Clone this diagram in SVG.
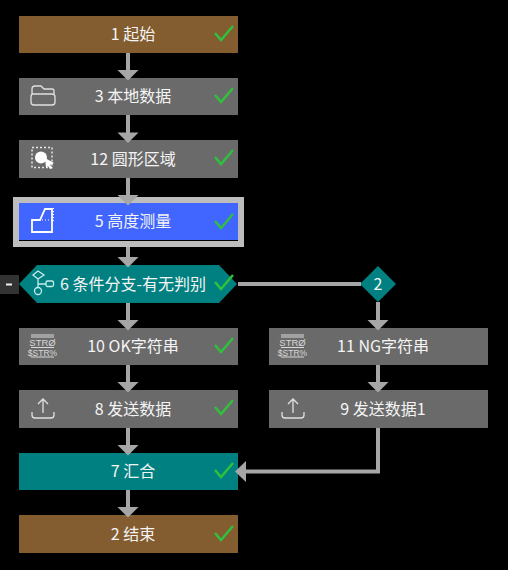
<svg xmlns="http://www.w3.org/2000/svg" width="508" height="570" viewBox="0 0 508 570">
<defs>
<style>
text{font-family:"Noto Sans CJK SC","Noto Sans",sans-serif;font-size:16px;fill:#f4f4f4;text-anchor:middle}
.brown{fill:#835c2f}.gray{fill:#6a6a6a}.teal{fill:#008080}.blue{fill:#4066ff}
.conn{fill:none;stroke:#a6a6a6;stroke-width:4}
.head{fill:#a6a6a6}
.chk{fill:none;stroke:#2fc03d;stroke-width:2.5}
.ic{fill:none;stroke:#e0e0e0;stroke-width:1.3}
.ict{fill:none;stroke:#c8ecec;stroke-width:1.3}
.icb{fill:none;stroke:#fff;stroke-width:1.800}
text.st{font-family:"Liberation Sans",sans-serif;font-size:9.500px;fill:#d8d8d8}
.sl{fill:none;stroke:#d8d8d8;stroke-width:1.200}
</style>
<path id="c" class="chk" d="M215,33L221,40L233,26"/>
<path id="a" class="head" d="M-10.500,0H10.500L0,10.500Z"/>
<g id="stric"><path class="sl" d="M0,0H23M0,2H23M0,12.500H23M0,22H23"/><text class="st" x="11.500" y="11">STRØ</text><text class="st" x="11.500" y="20.500" style="font-size:8.500px">$STR%</text></g>
<g id="upic"><path class="ic" d="M0,14v3q0,3 3,3h16q3,0 3,-3v-3M11,15V1M6,6L11,1L16,6"/></g>
</defs>
<rect width="508" height="570" fill="#000"/>
<g id="node1"><rect class="brown" x="19" y="16" width="219" height="37"/><text x="133" y="40">1 起始</text><use href="#c"/></g>
<g id="node3"><rect class="gray" x="19" y="78" width="219" height="37"/>
<path class="ic" d="M32,94V89q0,-3 3,-3h6l3,3h8q2,0 2,2v3M33,94h19q3,0 3,3v5q0,3 -3,3H34q-3,0 -3,-3v-5q0,-3 2,-3"/>
<text x="133" y="102">3 本地数据</text><use href="#c" y="62"/></g>
<g id="node12"><rect class="gray" x="19" y="140" width="219" height="38"/>
<rect x="32" y="147.500" width="20" height="20" fill="none" stroke="#e8e8e8" stroke-width="1.500" stroke-dasharray="2 2"/>
<circle cx="41" cy="157.500" r="6" fill="#fff"/>
<path d="M45,158L54,163L50,165L53,168L50,169L48,166L46,168Z" fill="#fff"/>
<text x="133" y="165">12 圆形区域</text><use href="#c" y="124"/></g>
<g id="node5"><rect x="16" y="200" width="225" height="44" fill="none" stroke="#bdbdbd" stroke-width="6"/><rect class="blue" x="19" y="203" width="219" height="37"/>
<path class="icb" d="M32,232V220H40L45,209H52V232Z"/>
<path d="M42,220H53M53.500,208V222" stroke="#fff" stroke-width="1" stroke-dasharray="1 2" fill="none"/>
<text x="133" y="227">5 高度测量</text><use href="#c" y="188"/></g>
<g id="node6"><rect x="0" y="275" width="19" height="19" fill="#333"/><rect x="6" y="283.500" width="6" height="2" fill="#f0f0f0"/>
<path class="teal" d="M19,284L37,265H219L237,284L219,303H37Z"/>
<path class="ict" d="M38,271L44,275L38,279L33,275ZM38,279V288M38,284H46"/>
<circle class="ict" cx="38" cy="291" r="3.500"/><rect class="ict" x="46" y="281" width="7.500" height="5.500" rx="1.500"/>
<text x="133" y="290">6 条件分支-有无判别</text><use href="#c" y="249"/></g>
<g id="node2b"><path class="teal" d="M378,266L396,284L378,302L360,284Z"/><text x="378" y="290">2</text></g>
<g id="node10"><rect class="gray" x="19" y="328" width="219" height="37"/><use href="#stric" x="31" y="335"/><text x="133" y="352">10 OK字符串</text><use href="#c" y="312"/></g>
<g id="node11"><rect class="gray" x="269" y="328" width="219" height="37"/><use href="#stric" x="281" y="335"/><text x="383" y="352">11 NG字符串</text></g>
<g id="node8"><rect class="gray" x="19" y="390" width="219" height="38"/><use href="#upic" x="32" y="398"/><text x="133" y="415">8 发送数据</text><use href="#c" y="374"/></g>
<g id="node9"><rect class="gray" x="269" y="390" width="219" height="38"/><use href="#upic" x="282" y="398"/><text x="383" y="415">9 发送数据1</text></g>
<g id="node7"><rect class="teal" x="19" y="453" width="219" height="37"/><text x="133" y="477">7 汇合</text><use href="#c" y="437"/></g>
<g id="node2"><rect class="brown" x="19" y="515" width="219" height="38"/><text x="133" y="540">2 结束</text><use href="#c" y="500"/></g>
<g id="connectors">
<path class="conn" d="M128,53V72M128,115V134M128,178V197M128,247V259M128,303V322M128,365V384M128,428V447M128,490V509M238,284H361M378,302V322M378,365V384M378,428V471.500H244"/>
<use href="#a" x="128" y="70"/>
<use href="#a" x="128" y="132.500"/>
<use href="#a" x="128" y="195"/>
<use href="#a" x="128" y="257"/>
<use href="#a" x="128" y="320"/>
<use href="#a" x="128" y="382"/>
<use href="#a" x="128" y="445"/>
<use href="#a" x="128" y="507"/>
<use href="#a" x="378" y="320"/>
<use href="#a" x="378" y="382"/>
<path class="head" d="M235,471.500L246,461V482Z"/>
</g>
</svg>
